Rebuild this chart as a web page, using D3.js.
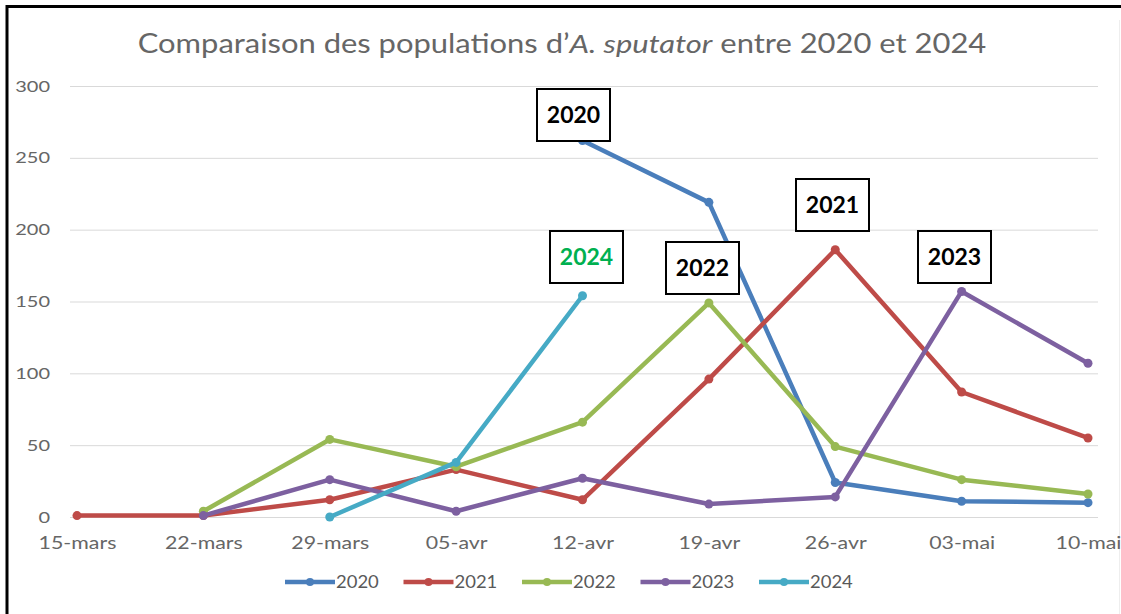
<!DOCTYPE html>
<html>
<head>
<meta charset="utf-8">
<script src="https://cdn.jsdelivr.net/npm/d3@7"></script>
<style>
  html, body { margin: 0; padding: 0; background: #fff; }
  svg { display: block; }
</style>
</head>
<body>
<svg id="chart" width="1121" height="614"></svg>
<script>
// ---- data ----
const categories = ["15-mars", "22-mars", "29-mars", "05-avr", "12-avr", "19-avr", "26-avr", "03-mai", "10-mai"];
const yTicks = [0, 50, 100, 150, 200, 250, 300];
const seriesNames = ["2020", "2021", "2022", "2023", "2024"];
const values2020 = [null, null, null, null, 262, 219, 24, 11, 10];
const values2021 = [1, 1, 12, 33, 12, 96, 186, 87, 55];
const values2022 = [null, 4, 54, 35, 66, 149, 49, 26, 16];
const values2023 = [null, 1, 26, 4, 27, 9, 14, 157, 107];
const values2024 = [null, null, 0, 38, 154, null, null, null, null];
const seriesColors = ["#4A7EBB", "#BE4B48", "#98B954", "#7D60A0", "#46AAC5"];
const annotations = [
  { text: "2020", color: "#000" },
  { text: "2024", color: "#00B050" },
  { text: "2022", color: "#000" },
  { text: "2021", color: "#000" },
  { text: "2023", color: "#000" }
];
const annotationBoxes = {
  "2020": { x: 537, y: 89 },
  "2024": { x: 550, y: 231 },
  "2022": { x: 666, y: 242 },
  "2021": { x: 796, y: 179 },
  "2023": { x: 918, y: 231 }
};

const allSeries = [values2020, values2021, values2022, values2023, values2024];

const svg = d3.select("#chart");
const font = "Lato, 'Open Sans', sans-serif";

// frame (top & left black lines)
svg.append("line").attr("x1", 7).attr("x2", 1121).attr("y1", 6.5).attr("y2", 6.5)
  .attr("stroke", "#000").attr("stroke-width", 3);
svg.append("line").attr("x1", 7).attr("x2", 7).attr("y1", 5).attr("y2", 614)
  .attr("stroke", "#000").attr("stroke-width", 3);
svg.append("line").attr("x1", 1119.5).attr("x2", 1119.5).attr("y1", 20).attr("y2", 614)
  .attr("stroke", "#eeeeee").attr("stroke-width", 1);

// scales
const x = d3.scalePoint().domain(categories).range([77, 1088]);
const y = d3.scaleLinear().domain([0, 300]).range([517, 86]);

// gridlines
svg.append("g").selectAll("line").data(yTicks).join("line")
  .attr("x1", 70).attr("x2", 1098)
  .attr("y1", d => y(d) + 0.5).attr("y2", d => y(d) + 0.5)
  .attr("stroke", "#d9d9d9").attr("stroke-width", 1);

// y axis labels
const yAxis = d3.axisLeft(y).tickValues(yTicks).tickSize(0).tickPadding(0);
const gy = svg.append("g").attr("transform", "translate(50,0)").call(yAxis);
gy.select(".domain").remove();
gy.selectAll("text").attr("fill", "#666666").attr("transform", "scale(1.25,1)")
  .style("font-family", font).style("font-size", "16px");

// x axis labels
const xAxis = d3.axisBottom(x).tickSize(0).tickPadding(0);
const gx = svg.append("g").attr("transform", "translate(0,537)").call(xAxis);
gx.select(".domain").remove();
gx.selectAll("text").attr("fill", "#666666").attr("transform", "scale(1.22,1)")
  .style("font-family", font).style("font-size", "17.5px");

// title
const title = svg.append("text").attr("transform", "translate(562,53) scale(1.19,1)")
  .attr("text-anchor", "middle")
  .attr("fill", "#666666").style("font-family", font).style("font-size", "26px").style("font-weight", 400);
title.append("tspan").text("Comparaison des populations d\u2019");
title.append("tspan").style("font-style", "italic").text("A. sputator");
title.append("tspan").text(" entre 2020 et 2024");

// lines
const line = d3.line()
  .defined(d => d.v !== null)
  .x(d => x(d.c)).y(d => y(d.v));

allSeries.forEach((vals, i) => {
  const pts = categories.map((c, j) => ({ c, v: vals[j] }));
  svg.append("path").datum(pts)
    .attr("d", line).attr("fill", "none")
    .attr("stroke", seriesColors[i]).attr("stroke-width", 4.5)
    .attr("stroke-linejoin", "round").attr("stroke-linecap", "round");
  svg.append("g").selectAll("circle").data(pts.filter(d => d.v !== null)).join("circle")
    .attr("cx", d => x(d.c)).attr("cy", d => y(d.v)).attr("r", 4.5)
    .attr("fill", seriesColors[i]);
});

// annotation boxes
annotations.forEach(a => {
  const b = annotationBoxes[a.text];
  const g = svg.append("g");
  g.append("rect").attr("x", b.x).attr("y", b.y).attr("width", 73).attr("height", 52)
    .attr("fill", "#fff").attr("stroke", "#000").attr("stroke-width", 2);
  g.append("text").attr("x", b.x + 36.5).attr("y", b.y + 34).attr("text-anchor", "middle")
    .attr("fill", a.color).style("font-family", font).style("font-size", "23px").style("font-weight", 700)
    .text(a.text);
});

// legend
const legend = svg.append("g");
seriesNames.forEach((name, i) => {
  const lx = 285 + i * 118.5;
  const ly = 582;
  legend.append("line").attr("x1", lx).attr("x2", lx + 50).attr("y1", ly).attr("y2", ly)
    .attr("stroke", seriesColors[i]).attr("stroke-width", 4.5);
  legend.append("circle").attr("cx", lx + 25).attr("cy", ly).attr("r", 4).attr("fill", seriesColors[i]);
  legend.append("text").attr("transform", `translate(${lx + 51},${ly + 6}) scale(1.12,1)`)
    .attr("fill", "#595959").style("font-family", font).style("font-size", "16.5px").text(name);
});
</script>
</body>
</html>
